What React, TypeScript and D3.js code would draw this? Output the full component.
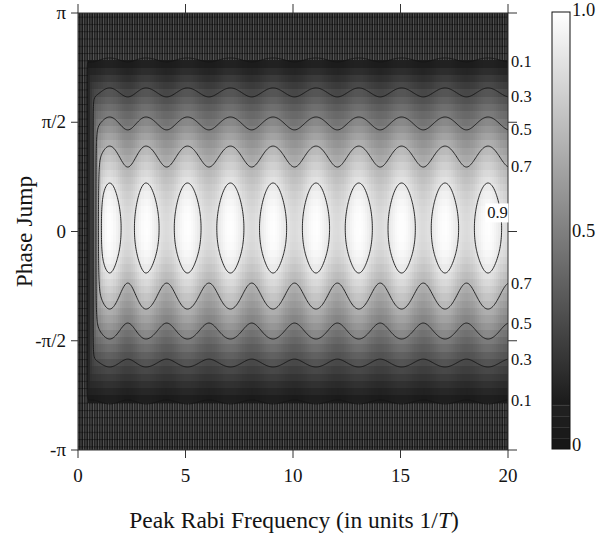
import React, { useMemo } from "react";
import * as d3 from "d3";

// Axis ticks
const rabiTicks = [0, 5, 10, 15, 20];
const phaseTickValues = [Math.PI, Math.PI / 2, 0, -Math.PI / 2, -Math.PI];
const phaseTickLabels = ["π", "π/2", "0", "-π/2", "-π"];
const colorbarTicks = [1, 0.5, 0];
const colorbarLabels = ["1.0", "0.5", "0"];

// Contour levels of the transfer probability
const contourLevels = [0.1, 0.3, 0.5, 0.7, 0.9];

// Peak Rabi frequencies (units 1/T) at which the fringes reach their maxima
const crestRabi = [1.47, 3.16, 5.09, 7.09, 9.07, 11.07, 13.06, 15.05, 17.07, 19.07];

// Cross-section through a fringe maximum: phase jump (units of π) -> probability
const crestPhase = [-1, -0.789, -0.62, -0.492, -0.355, -0.19, -0.09, 0.016, 0.12, 0.222, 0.391, 0.524, 0.657, 0.794, 1];
const crestValue = [0.02, 0.1, 0.3, 0.5, 0.7, 0.9, 0.975, 0.995, 0.975, 0.9, 0.7, 0.5, 0.3, 0.1, 0.02];

// Cross-section through a fringe minimum
const troughPhase = [-1, -0.771, -0.584, -0.419, -0.236, -0.1, 0.016, 0.13, 0.295, 0.465, 0.616, 0.776, 1];
const troughValue = [0.02, 0.1, 0.3, 0.5, 0.7, 0.83, 0.86, 0.83, 0.7, 0.5, 0.3, 0.1, 0.02];

// Weak-driving cut-off: the transfer cannot exceed this level at small Rabi frequency
const onsetRabi = [0, 0.2, 0.42, 0.7, 0.84, 0.96, 1.1, 1.4, 2.0];
const onsetLevel = [0, 0.02, 0.1, 0.3, 0.5, 0.74, 1.2, 2.2, 6.0];

const W = 597;
const H = 540;
const X0 = 78;
const X1 = 508;
const Y0 = 13;
const Y1 = 450;
const FONT = "'Liberation Serif', 'Times New Roman', serif";
const INK = "#141414";

const xScale = d3.scaleLinear().domain([0, 20]).range([X0, X1]);
const yScale = d3.scaleLinear().domain([-Math.PI, Math.PI]).range([Y1, Y0]);

// monotone cubic (Fritsch–Carlson) through the given nodes, clamped at the ends
function monotoneCurve(xs: number[], ys: number[]) {
  const n = xs.length;
  const d: number[] = [];
  for (let i = 0; i < n - 1; i++) d.push((ys[i + 1] - ys[i]) / (xs[i + 1] - xs[i]));
  const m: number[] = new Array(n);
  m[0] = d[0];
  m[n - 1] = d[n - 2];
  for (let i = 1; i < n - 1; i++) m[i] = d[i - 1] * d[i] <= 0 ? 0 : (d[i - 1] + d[i]) / 2;
  for (let i = 0; i < n - 1; i++) {
    if (d[i] === 0) {
      m[i] = 0;
      m[i + 1] = 0;
      continue;
    }
    const a = m[i] / d[i];
    const b = m[i + 1] / d[i];
    const s = a * a + b * b;
    if (s > 9) {
      const t = 3 / Math.sqrt(s);
      m[i] = t * a * d[i];
      m[i + 1] = t * b * d[i];
    }
  }
  return (x: number) => {
    if (x <= xs[0]) return ys[0];
    if (x >= xs[n - 1]) return ys[n - 1];
    const i = Math.min(n - 2, d3.bisectRight(xs, x) - 1);
    const h = xs[i + 1] - xs[i];
    const t = (x - xs[i]) / h;
    const t2 = t * t;
    const t3 = t2 * t;
    return (
      (2 * t3 - 3 * t2 + 1) * ys[i] +
      (t3 - 2 * t2 + t) * h * m[i] +
      (-2 * t3 + 3 * t2) * ys[i + 1] +
      (t3 - t2) * h * m[i + 1]
    );
  };
}

const crestProfile = monotoneCurve(crestPhase, crestValue);
const troughProfile = monotoneCurve(troughPhase, troughValue);
const onset = d3.scaleLinear().domain(onsetRabi).range(onsetLevel).clamp(true);

function fringeWeight(x: number): number {
  const c = crestRabi;
  const n = c.length;
  let t: number;
  if (x < c[0]) t = (x - c[0]) / (c[1] - c[0]);
  else if (x >= c[n - 1]) t = (x - c[n - 1]) / (c[n - 1] - c[n - 2]);
  else {
    const i = d3.bisectRight(c, x) - 1;
    t = (x - c[i]) / (c[i + 1] - c[i]);
  }
  return (1 + Math.cos(2 * Math.PI * t)) / 2;
}

// probability at Rabi frequency x and phase jump phiPi (units of π)
function transfer(x: number, phiPi: number): number {
  if (x <= 0) return 0;
  const w = fringeWeight(x);
  const f = w * crestProfile(phiPi) + (1 - w) * troughProfile(phiPi);
  const r = onset(x);
  if (r <= 0 || f <= 0) return 0;
  return Math.pow(Math.pow(r, -6) + Math.pow(f, -6), -1 / 6);
}

const grayOf = (v: number) => {
  const g = v < 0.1 ? Math.round(22 + 110 * Math.max(v, 0)) : Math.round(255 * Math.min(v, 1));
  return `rgb(${g},${g},${g})`;
};

const NX = 200; // Rabi samples 0..20 step 0.1
const NY = 60; // phase samples -π..π step π/30
const cellW = (X1 - X0) / NX;
const cellH = (Y1 - Y0) / NY;

type Run = { x: number; y: number; w: number; h: number; fill: string; dark: boolean };

function buildCells(): Run[] {
  const runs: Run[] = [];
  for (let j = 0; j <= NY; j++) {
    const phi = Math.PI - (j * 2 * Math.PI) / NY;
    const cy = yScale(phi);
    const top = Math.max(Y0, cy - cellH / 2);
    const bot = Math.min(Y1, cy + cellH / 2);
    let cur: Run | null = null;
    for (let i = 0; i <= NX; i++) {
      const om = (i * 20) / NX;
      const v = transfer(om, phi / Math.PI);
      const fill = grayOf(v);
      const dark = v < 0.1;
      const cx = xScale(om);
      const left = Math.max(X0, cx - cellW / 2);
      const right = Math.min(X1, cx + cellW / 2);
      if (cur && cur.fill === fill && cur.dark === dark) {
        cur.w = right - cur.x;
      } else {
        if (cur) runs.push(cur);
        cur = { x: left, y: top, w: right - left, h: bot - top, fill, dark };
      }
    }
    if (cur) runs.push(cur);
  }
  return runs;
}

function buildContours() {
  const gx0 = -0.5;
  const gdx = 0.04;
  const gnx = Math.round((21 - gx0) / gdx) + 1;
  const gy0 = -1.1;
  const gdy = 0.008;
  const gny = Math.round((1.1 - gy0) / gdy) + 1;
  const values = new Float64Array(gnx * gny);
  for (let j = 0; j < gny; j++) {
    const p = gy0 + j * gdy;
    for (let i = 0; i < gnx; i++) values[j * gnx + i] = transfer(gx0 + i * gdx, p);
  }
  const gen = d3.contours().size([gnx, gny]).thresholds(contourLevels);
  const polys = gen(Array.from(values));
  return polys.map((c) => {
    let d = "";
    for (const poly of c.coordinates) {
      for (const ring of poly) {
        ring.forEach((pt, k) => {
          const om = gx0 + (pt[0] - 0.5) * gdx;
          const ph = (gy0 + (pt[1] - 0.5) * gdy) * Math.PI;
          d += (k === 0 ? "M" : "L") + xScale(om).toFixed(2) + "," + yScale(ph).toFixed(2);
        });
        d += "Z";
      }
    }
    return { level: c.value, d };
  });
}

// phase (units of π) where the transfer at x crosses the given level
function crossing(x: number, level: number, upper: boolean): number | null {
  let a = upper ? 0.016 : -1;
  let b = upper ? 1 : 0.016;
  const fa = transfer(x, a) - level;
  const fb = transfer(x, b) - level;
  if (fa * fb > 0) return null;
  for (let k = 0; k < 50; k++) {
    const m = (a + b) / 2;
    const fm = transfer(x, m) - level;
    if (fm > 0 === fa > 0) a = m;
    else b = m;
  }
  return (a + b) / 2;
}

export default function App() {
  const cells = useMemo(buildCells, []);
  const contours = useMemo(buildContours, []);
  const edgeLabels = useMemo(() => {
    const out: { level: number; y: number }[] = [];
    for (const lv of contourLevels) {
      for (const up of [true, false]) {
        const p = crossing(20, lv, up);
        if (p !== null) out.push({ level: lv, y: yScale(p * Math.PI) });
      }
    }
    return out;
  }, []);

  const cbX = 552;
  const cbW = 18;
  const cbScale = d3.scaleLinear().domain([0, 1]).range([449, 12]);
  const darkBands = [0, 0.025, 0.05, 0.075];

  const nineX = xScale(19.51);
  const nineY = yScale(0.085 * Math.PI);

  return (
    <svg
      width={W}
      height={H}
      viewBox={`0 0 ${W} ${H}`}
      style={{ position: "absolute", left: 0, top: 0, display: "block", background: "#fff" }}
      fontFamily={FONT}
    >
      <defs>
        <clipPath id="plotClip">
          <rect x={X0} y={Y0} width={X1 - X0} height={Y1 - Y0} />
        </clipPath>
        <pattern id="grain" patternUnits="userSpaceOnUse" x={X0} y={Y0 - cellH / 2} width={2.5} height={cellH}>
          <rect x={0} y={0} width={1} height={cellH} fill="#fff" fillOpacity={0.26} />
          <rect x={0} y={0} width={2.5} height={1} fill="#000" fillOpacity={0.4} />
        </pattern>
        <linearGradient id="cbGrad" x1="0" y1="0" x2="0" y2="1">
          <stop offset="0" stopColor="rgb(255,255,255)" />
          <stop offset="1" stopColor="rgb(26,26,26)" />
        </linearGradient>
      </defs>

      {/* density map */}
      <g clipPath="url(#plotClip)" shapeRendering="crispEdges">
        {cells.map((c, k) => (
          <rect key={k} x={c.x} y={c.y} width={c.w + 0.6} height={c.h + 0.6} fill={c.fill} />
        ))}
        {cells
          .filter((c) => c.dark)
          .map((c, k) => (
            <rect key={"g" + k} x={c.x} y={c.y} width={c.w} height={c.h} fill="url(#grain)" />
          ))}
      </g>

      {/* contour lines */}
      <g clipPath="url(#plotClip)" fill="none" stroke="#151515" strokeWidth={0.9}>
        {contours.map((c) => (
          <path key={c.level} d={c.d} />
        ))}
      </g>

      {/* frame and ticks */}
      <rect x={X0} y={Y0} width={X1 - X0} height={Y1 - Y0} fill="none" stroke="#333" strokeWidth={1} />
      <g stroke="#333" strokeWidth={1}>
        {rabiTicks.map((t) => (
          <g key={t}>
            <line x1={xScale(t)} x2={xScale(t)} y1={Y1} y2={Y1 + 8} />
            <line x1={xScale(t)} x2={xScale(t)} y1={Y0} y2={Y0 - 9} />
          </g>
        ))}
        {phaseTickValues.map((t, k) => (
          <g key={k}>
            <line x1={X0 - 7} x2={X0} y1={yScale(t)} y2={yScale(t)} />
            <line x1={X1} x2={X1 + 9} y1={yScale(t)} y2={yScale(t)} />
          </g>
        ))}
      </g>

      <g fontSize={19} fill={INK}>
        {rabiTicks.map((t) => (
          <text key={t} x={xScale(t)} y={482} textAnchor="middle">
            {t}
          </text>
        ))}
        {phaseTickValues.map((t, k) => (
          <text key={k} x={66} y={yScale(t) + 6} textAnchor="end">
            {phaseTickLabels[k]}
          </text>
        ))}
      </g>

      {/* contour labels */}
      <g fontSize={16.5} fill={INK}>
        {edgeLabels.map((l, k) => (
          <text key={k} x={511} y={l.y + 5.5}>
            {l.level.toFixed(1)}
          </text>
        ))}
        <rect x={nineX - 12} y={nineY - 9.5} width={23} height={19} fill="#fff" />
        <text x={nineX} y={nineY + 5.5} textAnchor="middle">
          {(0.9).toFixed(1)}
        </text>
      </g>

      {/* axis titles */}
      <text x={294} y={528} textAnchor="middle" fontSize={23.5} fill={INK}>
        Peak Rabi Frequency (in units 1/<tspan fontStyle="italic">T</tspan>)
      </text>
      <text
        transform={`translate(32,${(Y0 + Y1) / 2}) rotate(-90)`}
        textAnchor="middle"
        fontSize={23.5}
        fill={INK}
      >
        Phase Jump
      </text>

      {/* colour bar */}
      <rect x={cbX} y={cbScale(1)} width={cbW} height={cbScale(0.1) - cbScale(1)} fill="url(#cbGrad)" />
      {darkBands.map((b) => (
        <g key={b}>
          <rect
            x={cbX}
            y={cbScale(b + 0.025)}
            width={cbW}
            height={cbScale(b) - cbScale(b + 0.025)}
            fill={grayOf(b + 0.0125)}
          />
          <line x1={cbX} x2={cbX + cbW} y1={cbScale(b + 0.025)} y2={cbScale(b + 0.025)} stroke="#3a3a3a" strokeWidth={1} />
        </g>
      ))}
      <rect x={cbX} y={cbScale(1)} width={cbW} height={cbScale(0) - cbScale(1)} fill="none" stroke="#111" strokeWidth={1} />
      <g fontSize={18.5} fill={INK}>
        {colorbarTicks.map((t, k) => (
          <text key={t} x={572} y={cbScale(t) + (t === 1 ? 4 : t === 0 ? 2 : 6)}>
            {colorbarLabels[k]}
          </text>
        ))}
      </g>
    </svg>
  );
}
